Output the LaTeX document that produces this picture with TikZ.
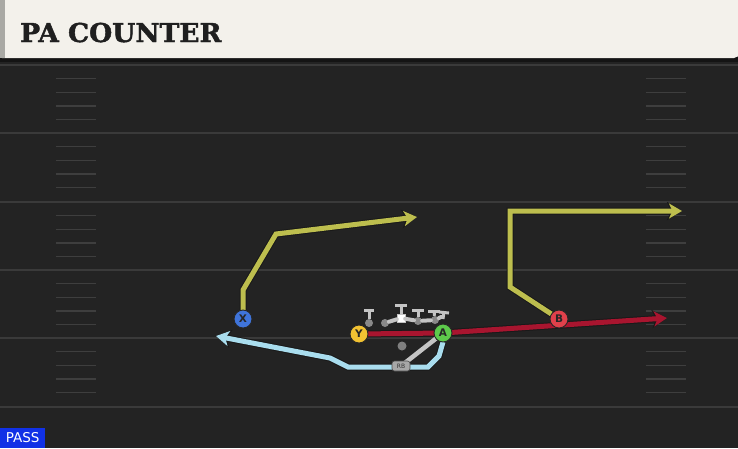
\documentclass[tikz,border=0pt]{standalone}
\usepackage{fontspec}
\setmainfont{DejaVu Sans}
\newfontfamily\titlefont{DejaVu Serif}[BoldFeatures={FakeBold=1.6}]
\usetikzlibrary{arrows.meta}
\definecolor{fieldbg}{HTML}{232323}
\definecolor{yardline}{HTML}{3A3A3A}
\definecolor{hashc}{HTML}{3E3E3E}
\definecolor{headbg}{HTML}{F3F1EB}
\definecolor{headstrip}{HTML}{A9A9A4}
\definecolor{olive}{HTML}{BDBE4E}
\definecolor{routered}{HTML}{A8152F}
\definecolor{routeblue}{HTML}{A9DDEE}
\definecolor{blockgray}{HTML}{C4C4C4}
\definecolor{pxblue}{HTML}{3F74DA}
\definecolor{pyellow}{HTML}{F2C232}
\definecolor{pgreen}{HTML}{5DC94B}
\definecolor{pred}{HTML}{E0414B}
\definecolor{passblue}{HTML}{1131E6}
\tikzset{
  player/.style={circle, draw=black!85, line width=0.9pt, minimum size=18pt, inner sep=0pt,
    font=\bfseries\fontsize{10.5}{10.5}\selectfont, text=black!85},
  routeout/.style={draw=black!90, line width=7pt, line join=miter},
  routein/.style={line width=5pt, line join=miter},
  tipout/.style={-{Stealth[length=15pt,width=18pt,inset=4pt]}},
  tipin/.style={-{Stealth[length=13pt,width=15pt,inset=3.5pt]}},
  hash/.style={draw=hashc, line width=1.3pt},
  yard/.style={draw=yardline, line width=1.5pt},
  lineman/.style={circle, fill=blockgray!70!black, inner sep=0pt, minimum size=8pt},
  tbar/.style={draw=blockgray, line width=3pt},
}
\begin{document}
\begin{tikzpicture}[x=1pt,y=-1pt]
\useasboundingbox (0,0) rectangle (738,448);
% field
\fill[fieldbg] (0,0) rectangle (738,448);
\foreach \yy in {65,133,202,270,338,407} {
  \draw[yard] (0,\yy) -- (738,\yy);
}
\foreach \yy in {65,133,202,270,338} {
  \foreach \k in {1,2,3,4} {
    \draw[hash] (56,\yy+13.7*\k) -- (96,\yy+13.7*\k);
    \draw[hash] (646,\yy+13.7*\k) -- (686,\yy+13.7*\k);
  }
}
% header
\fill[black!92] (0,57) rectangle (738,62);
\fill[headbg] (0,0) -- (738,0) -- (738,56) [rounded corners=2pt] -- (736,58) -- (0,58) -- cycle;
\fill[headstrip] (0,0) rectangle (5,58);
\node[anchor=base west, inner sep=0pt, font=\titlefont\bfseries\fontsize{26}{26}\selectfont, text=black!88, xscale=1.02] (title) at (20,42) {PA COUNTER};
% player positions
\coordinate (Xp) at (243,319);
\coordinate (Yp) at (359,334);
\coordinate (Ap) at (443,333);
\coordinate (Bp) at (559,319);
\coordinate (RBp) at (401,366);
% route corners
\coordinate (x1) at (243,290);
\coordinate (x2) at (276,234);
\coordinate (xend) at (417,217);
\coordinate (b1) at (510,287);
\coordinate (b2) at (510,211);
\coordinate (bend) at (682,211);
\coordinate (rend) at (667,318);
\coordinate (u1) at (443,342);
\coordinate (u2) at (439,356);
\coordinate (u3) at (428,367);
\coordinate (u4) at (348,367);
\coordinate (u5) at (330,358);
\coordinate (uend) at (216,336);
% routes: outlines
\draw[routeout, tipout] (Xp) -- (x1) -- (x2) -- (xend);
\draw[routeout, tipout] (Bp) -- (b1) -- (b2) -- (bend);
\draw[routeout, tipout] (u1) -- (u2) -- (u3) -- (u4) -- (u5) -- (uend);
\draw[routeout, tipout] (Yp) -- (Ap) -- (rend);
% routes: colour
\draw[routein, olive, tipin] (Xp) -- (x1) -- (x2) -- (xend);
\draw[routein, olive, tipin] (Bp) -- (b1) -- (b2) -- (bend);
\draw[routein, routeblue, tipin] (u1) -- (u2) -- (u3) -- (u4) -- (u5) -- (uend);
\draw[routein, routered, tipin] (Yp) -- (Ap) -- (rend);
% RB handoff line
\draw[blockgray, line width=4.5pt] (RBp) -- (Ap);
% offensive line blocks
\node[lineman] (LT) at (369,323) {};
\node[lineman] (LG) at (385,323) {};
\node[lineman] (RG) at (418,321) {};
\node[lineman] (RT) at (435,320) {};
\node[fill=white, draw=blockgray, inner sep=0pt, minimum size=8pt] (C) at (401,318) {};
\draw[blockgray, line width=4pt, line cap=round] (LG) -- (C) -- (RG) -- (RT) -- (441,317);
\draw[tbar] (LT) -- (369,310); \draw[tbar] (364,310) -- (374,310);
\draw[tbar] (C) -- (401,305); \draw[tbar] (395,305) -- (407,305);
\draw[tbar] (RG) -- (418,310); \draw[tbar] (412,310) -- (424,310);
\draw[tbar] (RT) -- (434,311); \draw[tbar] (428,311) -- (440,311);
\draw[tbar] (443,319) -- (444,312); \draw[tbar] (439,312) -- (449,313);
% QB
\node[circle, fill=blockgray!65!black, inner sep=0pt, minimum size=9pt] (QB) at (402,346) {};
% players
\node[player, fill=pxblue] (X) at (Xp) {X};
\node[player, fill=pyellow] (Y) at (Yp) {Y};
\node[player, fill=pgreen] (A) at (Ap) {A};
\node[player, fill=pred] (B) at (Bp) {B};
\node[rounded corners=2.5pt, fill=blockgray!85!black, draw=black!70, line width=0.6pt, minimum width=18pt, minimum height=10pt, inner sep=0pt, font=\fontsize{6}{6}\selectfont, text=black!80] (RB) at (RBp) {RB};
% PASS tag
\node[anchor=south west, fill=passblue, text=white, inner xsep=3pt, inner ysep=2pt, minimum height=20pt, minimum width=45pt, font=\fontsize{13.5}{13.5}\selectfont] (pass) at (0,448) {PASS};
\end{tikzpicture}
\end{document}
